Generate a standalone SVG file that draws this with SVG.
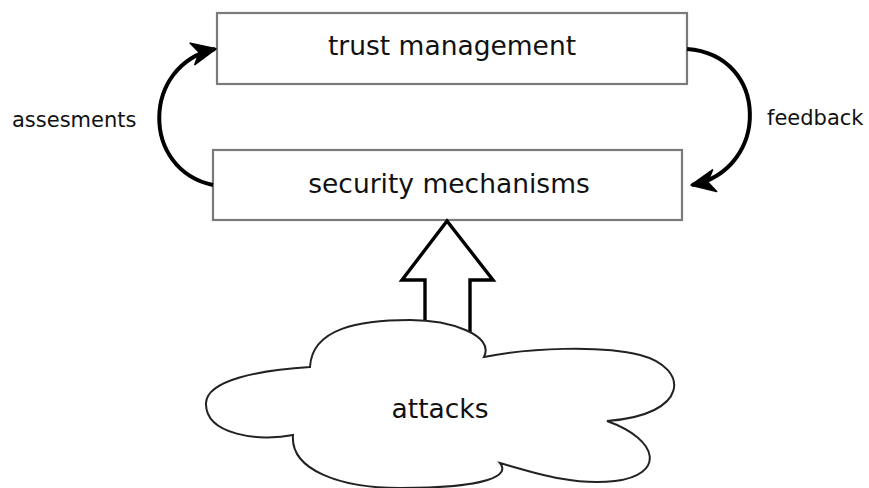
<svg xmlns="http://www.w3.org/2000/svg" width="869" height="488" viewBox="0 0 869 488">
<style>
.box{fill:#fff;stroke:#7a7a7a;stroke-width:2.2}
.t{font-family:"DejaVu Sans","Verdana",sans-serif;fill:#111}
.big{font-size:26.5px}
.small{font-size:21px}
.conn{fill:none;stroke:#000;stroke-width:4}
</style>
<defs>
<marker id="ah" markerUnits="userSpaceOnUse" markerWidth="30" markerHeight="26" refX="25" refY="13" orient="auto" viewBox="0 0 30 26">
<path d="M2,2 L26,13 L2,24 L9,13 z" fill="#000" stroke="#000" stroke-width="1.5" stroke-linejoin="round"/>
</marker>
</defs>
<g id="trust-management">
<rect class="box" x="217" y="13" width="470" height="71"/>
<text class="t big" x="452" y="55" text-anchor="middle">trust management</text>
</g>
<g id="security-mechanisms">
<rect class="box" x="213" y="150" width="469" height="70"/>
<text class="t big" x="449" y="193" text-anchor="middle">security mechanisms</text>
</g>
<g id="connectors">
<path class="conn" d="M687,49 C770,55 770,170 692,185" marker-end="url(#ah)"/>
<path class="conn" d="M213,185 C141,170 141,65 215,49" marker-end="url(#ah)"/>
<polygon points="425,345 425,280 402,280 447,221 493,280 470,280 470,345" fill="#fff" stroke="#000" stroke-width="3.4" stroke-linejoin="miter"/>
</g>
<g id="labels">
<text class="t small" x="12" y="127">assesments</text>
<text class="t small" x="767" y="125">feedback</text>
</g>
<g id="attacks">
<path d="M310,367 C312,328 360,320 410,320 C450,320 495,335 484,357 C530,348 600,345 640,355 C690,368 690,415 607,421 C660,440 665,475 615,481 C575,486 535,473 500,463 C510,475 490,488 400,488 C340,488 290,470 293,435 C260,442 205,435 206,403 C207,380 260,370 310,367 Z" fill="#fff" stroke="#222" stroke-width="2"/>
<text class="t big" x="440" y="418" text-anchor="middle">attacks</text>
</g>
</svg>
